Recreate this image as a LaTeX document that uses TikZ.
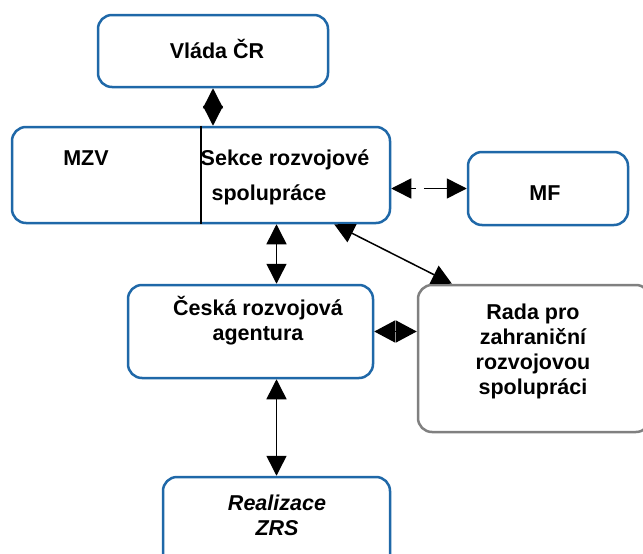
\documentclass[tikz,border=0pt]{standalone}
\usepackage{fontspec}
\setmainfont{Liberation Sans}
\usetikzlibrary{arrows.meta,calc}

\definecolor{boxblue}{RGB}{31,104,168}
\definecolor{boxgray}{RGB}{128,128,128}

\tikzset{
    orgbox/.style={draw=boxblue,line width=2.5pt,rounded corners=14pt,inner sep=0pt},
    graybox/.style={orgbox,draw=boxgray},
    lbl/.style={font=\fontsize{21.5}{25}\selectfont\bfseries,align=center,anchor=base},
    link/.style={line width=1.5pt,{Triangle[length=20pt,width=20pt]}-{Triangle[length=20pt,width=20pt]}},
}

\begin{document}
\begin{tikzpicture}[x=1pt,y=-1pt]
    \useasboundingbox (0,0) rectangle (643,554);
    \clip (0,0) rectangle (643,554);

    % boxes
    \node[orgbox,minimum width=230pt,minimum height=72pt] (vlada) at (213,51) {};
    \node[orgbox,minimum width=378pt,minimum height=96pt] (mzv) at (201,175) {};
    \node[orgbox,minimum width=160pt,minimum height=73pt] (mf) at (548,188.5) {};
    \node[orgbox,minimum width=245pt,minimum height=93pt] (cra) at (250.5,331.5) {};
    \node[graybox,minimum width=232pt,minimum height=147pt] (rada) at (534,358.5) {};
    \node[orgbox,minimum width=227pt,minimum height=103pt] (zrs) at (276.5,528.5) {};
    \draw [line width=1.5pt] (mzv.north) -- (mzv.south);

    % texts (multi-line ones sit on the baseline of their last line)
    \node[lbl] (vladaT) at (217,58) {Vláda ČR};
    \node[lbl] (mzvT) at (86,165) {MZV};
    \node[lbl] (sekceT) at (285,165) {Sekce rozvojové};
    \node[lbl] (spolT) at (269,200) {spolupráce};
    \node[lbl] (mfT) at (545,200) {MF};
    \node[lbl] (craT) at (258,340) {Česká rozvojová\\agentura};
    \node[lbl] (radaT) at (533,394) {Rada pro\\zahraniční\\rozvojovou\\spolupráci};
    \node[lbl,font=\fontsize{21.5}{25}\selectfont\bfseries\itshape] (zrsT) at (277,535) {Realizace\\ZRS};

    % connectors
    \draw [link] (vlada.south) -- (vlada.south |- mzv.north);
    \draw [link,dash pattern=on 5pt off 8pt on 30pt off 0pt] (mzv.east |- mf.west) -- (mf.west);
    \draw [link] (mzv.south -| zrs.north) -- (cra.north -| zrs.north);
    \draw [link] ($(mzv.south west)!0.85!(mzv.south east)$) -- ($(rada.north west)!0.15!(rada.north east)$);
    \draw [link,{Triangle[length=21pt,width=22pt]}-{Triangle[length=21pt,width=22pt]}] (cra.east) -- (cra.east -| rada.west);
    \draw [link] (cra.south -| zrs.north) -- (zrs.north);
\end{tikzpicture}
\end{document}
